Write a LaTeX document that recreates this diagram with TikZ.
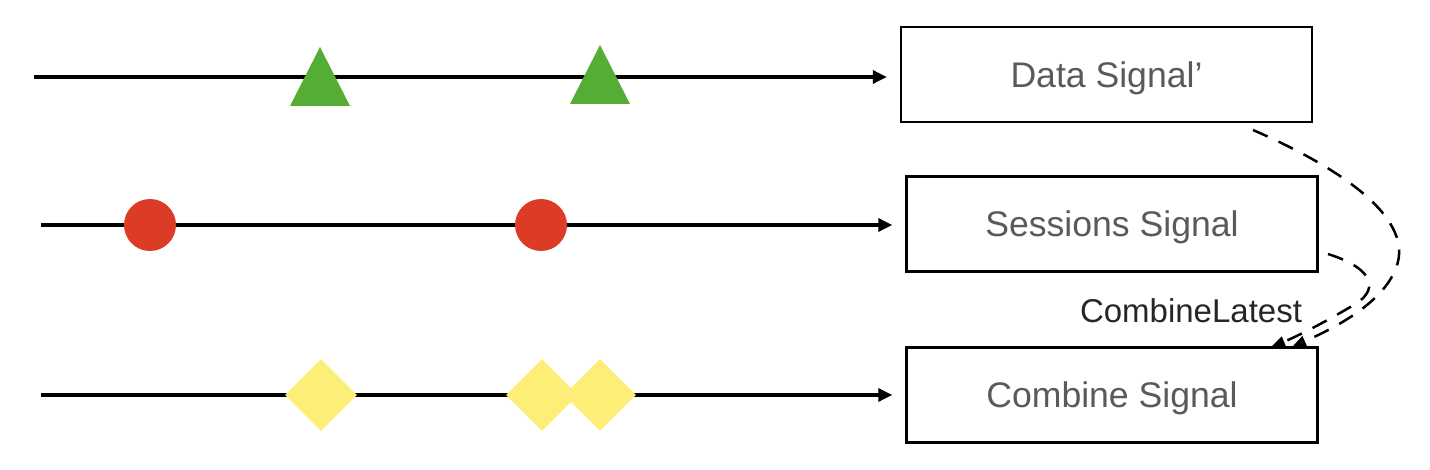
\documentclass[tikz,border=0pt]{standalone}
\usepackage{fontspec}
\setmainfont{Liberation Sans}
\usetikzlibrary{arrows.meta,shapes.geometric,calc}
\definecolor{markgreen}{HTML}{54AD35}
\definecolor{markred}{HTML}{DC3B26}
\definecolor{markyellow}{HTML}{FCEE77}
\definecolor{boxtext}{HTML}{5A5A5A}
\tikzset{
  sigbox/.style={draw,line width=1.2pt,minimum width=205.5pt,minimum height=47.5pt,
    text depth=0pt,text=boxtext,font=\fontsize{17.8}{20}\selectfont},
  timeline/.style={line width=1.6pt,-{Triangle[length=7pt,width=6.5pt]},shorten >=6.5pt},
  combo/.style={line width=1.25pt,dash pattern=on 8pt off 6pt,-{Triangle[length=7pt,width=5.5pt]}},
  dot/.style={circle,fill=markred,inner sep=0pt,minimum size=26pt},
  gem/.style={diamond,fill=markyellow,inner sep=0pt,minimum size=36pt}
}
\begin{document}
\begin{tikzpicture}[x=0.5pt,y=-0.5pt]
\useasboundingbox (0,0) rectangle (1430,470);
% boxes
\node[sigbox] (data) at (1106.5,74.5) {Data Signal’};
\node[sigbox] (sess) at (1112,224) {Sessions Signal};
\node[sigbox] (comb) at (1112,395) {Combine Signal};
% time lines
\coordinate (t1) at (34,77);
\coordinate (t2) at (41,225);
\coordinate (t3) at (41,395);
\draw[timeline] (t1) -- (t1 -| data.west);
\draw[timeline] (t2) -- (t2 -| sess.west);
\draw[timeline] (t3) -- (t3 -| comb.west);
% markers
\fill[markgreen] (290,106) -- (350,106) -- (320,47) -- cycle;
\fill[markgreen] (570,104) -- (630,104) -- (600,45) -- cycle;
\node[dot] (s1) at (150,225) {};
\node[dot] (s2) at (541,225) {};
\node[gem] (c1) at (321,395) {};
\node[gem] (c2) at (542,395) {};
\node[gem] (c3) at (600,395) {};
% combine latest
\coordinate (d1) at (1253,130);
\coordinate (d2) at (1328,254);
\coordinate (e1) at (1292,347);
\coordinate (e2) at (1271,347);
\draw[combo] (d1) .. controls (1345,170) and (1415,220) .. (1396,268)
  .. controls (1382,305) and (1330,330) .. (e1);
\draw[combo] (d2) .. controls (1378,270) and (1378,292) .. (1352,306)
  .. controls (1325,322) and (1298,336) .. (e2);
\node[font=\fontsize{16.5}{19}\selectfont,text=black!85] (lbl) at (1191,311) {CombineLatest};
\end{tikzpicture}
\end{document}
